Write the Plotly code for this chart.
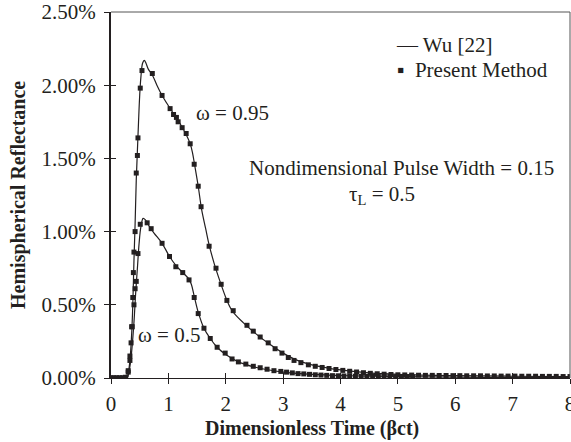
import plotly.graph_objects as go

# ---------------- data (reflectance in %) ----------------
wu95_t = [0.0, 0.28, 0.30, 0.33, 0.36, 0.38, 0.40, 0.42, 0.44, 0.46, 0.48, 0.50, 0.52, 0.55,
          0.58, 0.61, 0.65, 0.72, 0.80, 0.89, 1.00, 1.10, 1.20, 1.30, 1.38, 1.42, 1.46, 1.52,
          1.58, 1.65, 1.71, 1.80, 1.90, 2.00, 2.08, 2.15, 2.30, 2.50, 2.75, 3.00, 3.25, 3.50,
          4.00, 4.50, 5.00, 6.00, 7.00, 8.00]
wu95_r = [0.0, 0.0, 0.03, 0.12, 0.30, 0.50, 0.80, 1.05, 1.35, 1.55, 1.75, 1.93, 2.05, 2.15,
          2.17, 2.15, 2.11, 2.07, 2.00, 1.93, 1.86, 1.80, 1.74, 1.67, 1.60, 1.54, 1.45, 1.31,
          1.15, 1.02, 0.91, 0.78, 0.66, 0.55, 0.48, 0.44, 0.38, 0.31, 0.235, 0.17, 0.12, 0.09,
          0.055, 0.035, 0.025, 0.016, 0.012, 0.010]

wu50_t = [0.0, 0.28, 0.30, 0.33, 0.36, 0.40, 0.43, 0.46, 0.49, 0.52, 0.56, 0.60, 0.66, 0.75,
          0.89, 1.02, 1.13, 1.25, 1.35, 1.40, 1.45, 1.52, 1.62, 1.73, 1.85, 2.00, 2.22, 2.50,
          3.00, 3.50, 4.00, 5.00, 6.00, 7.00, 8.00]
wu50_r = [0.0, 0.0, 0.02, 0.08, 0.18, 0.38, 0.58, 0.75, 0.92, 1.03, 1.09, 1.08, 1.04, 0.99,
          0.92, 0.83, 0.77, 0.72, 0.68, 0.64, 0.56, 0.45, 0.34, 0.27, 0.21, 0.16, 0.11, 0.075,
          0.04, 0.025, 0.017, 0.010, 0.006, 0.004, 0.003]

pm95_t = [0.00, 0.05, 0.10, 0.15, 0.20, 0.25, 0.30, 0.33, 0.36, 0.38, 0.39, 0.40, 0.42, 0.44,
          0.46, 0.47, 0.51, 0.54, 0.72, 0.89, 1.03, 1.09, 1.14, 1.17, 1.24, 1.31, 1.38, 1.45,
          1.52, 1.57, 1.71, 1.83, 1.92, 2.02, 2.13, 2.37, 2.48, 2.60, 2.74, 2.86, 2.98, 3.09,
          3.19, 3.31, 3.44, 3.56, 3.68, 3.80, 3.92, 4.04, 4.16, 4.28, 4.40, 4.52, 4.64, 4.76,
          4.88, 5.00, 5.12, 5.24, 5.36, 5.48, 5.60, 5.72, 5.84, 5.96, 6.08, 6.20, 6.32, 6.44,
          6.56, 6.68, 6.80, 6.92, 7.04, 7.16, 7.28, 7.40, 7.52, 7.64, 7.76, 7.88, 8.00]
pm95_r = [0.0, 0.0, 0.0, 0.0, 0.0, 0.005, 0.05, 0.15, 0.35, 0.55, 0.72, 0.86, 1.00, 1.40,
          1.52, 1.64, 1.98, 2.10, 2.08, 1.93, 1.84, 1.80, 1.78, 1.75, 1.71, 1.67, 1.60, 1.46,
          1.31, 1.17, 0.90, 0.75, 0.64, 0.53, 0.46, 0.36, 0.32, 0.28, 0.24, 0.20, 0.17, 0.14,
          0.12, 0.105, 0.09, 0.08, 0.072, 0.065, 0.058, 0.052, 0.046, 0.041, 0.036, 0.032, 0.029, 0.026,
          0.024, 0.022, 0.021, 0.020, 0.019, 0.018, 0.018, 0.017, 0.017, 0.016, 0.016, 0.015, 0.015, 0.015,
          0.014, 0.014, 0.013, 0.013, 0.013, 0.012, 0.012, 0.012, 0.011, 0.011, 0.011, 0.010, 0.010]

pm50_t = [0.00, 0.05, 0.10, 0.15, 0.20, 0.25, 0.30, 0.33, 0.35, 0.37, 0.40, 0.42, 0.44, 0.47,
          0.51, 0.63, 0.70, 0.89, 1.02, 1.13, 1.25, 1.36, 1.45, 1.52, 1.62, 1.73, 1.85, 1.99,
          2.11, 2.22, 2.35, 2.48, 2.60, 2.72, 2.84, 2.96, 3.06, 3.16, 3.26, 3.36, 3.46, 3.56,
          3.66, 3.76, 3.86, 3.96, 4.06, 4.16, 4.26, 4.36, 4.46, 4.56, 4.66, 4.76, 4.86, 4.96,
          5.06, 5.16, 5.26]
pm50_r = [0.0, 0.0, 0.0, 0.0, 0.0, 0.003, 0.04, 0.12, 0.24, 0.35, 0.50, 0.61, 0.66, 0.85,
          1.05, 1.06, 1.02, 0.92, 0.83, 0.76, 0.72, 0.67, 0.55, 0.44, 0.34, 0.27, 0.21, 0.17,
          0.13, 0.11, 0.095, 0.08, 0.07, 0.06, 0.05, 0.045, 0.04, 0.035, 0.03, 0.028, 0.025, 0.022,
          0.020, 0.018, 0.016, 0.015, 0.014, 0.013, 0.012, 0.012, 0.011, 0.011, 0.010, 0.010, 0.010, 0.009,
          0.009, 0.009, 0.008]

x_ticks = [0, 1, 2, 3, 4, 5, 6, 7, 8]
y_ticks = [0.0, 0.5, 1.0, 1.5, 2.0, 2.5]
y_ticktext = ["0.00%", "0.50%", "1.00%", "1.50%", "2.00%", "2.50%"]

# ---------------- figure ----------------
W, H = 571, 442
L, R, T, B = 111, 1, 12, 64
FONT = "Liberation Serif, Times New Roman, serif"
INK = "#231f20"
FS = 21

def px_x(px):
    return (px - L) / (W - L - R)

def px_y(py):
    return (H - B - py) / (H - T - B)

fig = go.Figure()
line_style = dict(color=INK, width=1.2)
mk_style = dict(symbol="square", size=5, color=INK)

fig.add_trace(go.Scatter(x=wu95_t, y=wu95_r, mode="lines", line=line_style,
                         line_shape="spline", showlegend=False))
fig.add_trace(go.Scatter(x=wu50_t, y=wu50_r, mode="lines", line=line_style,
                         line_shape="spline", showlegend=False))
fig.add_trace(go.Scatter(x=pm95_t, y=pm95_r, mode="markers", marker=mk_style, showlegend=False))
fig.add_trace(go.Scatter(x=pm50_t, y=pm50_r, mode="markers", marker=mk_style, showlegend=False))
# invisible trace to activate overlay axes (inside half of cross ticks)
fig.add_trace(go.Scatter(x=[None], y=[None], xaxis="x2", yaxis="y2", showlegend=False))

fig.update_layout(
    width=W, height=H,
    margin=dict(l=L, r=R, t=T, b=B, autoexpand=False),
    paper_bgcolor="white", plot_bgcolor="white",
    font=dict(family=FONT, size=FS, color=INK),
    xaxis=dict(range=[0, 8], tickvals=x_ticks, ticks="outside", ticklen=5, tickwidth=1,
               tickcolor=INK, showline=True, linecolor=INK, linewidth=1.3, showgrid=False,
               zeroline=False, automargin=False, ticklabelstandoff=2,
               ticklabeloverflow="allow",
               tickfont=dict(size=FS, family=FONT, color=INK)),
    yaxis=dict(range=[0, 2.5], tickvals=y_ticks, ticktext=y_ticktext, ticks="outside",
               ticklen=5, tickwidth=1, tickcolor=INK, showline=True, linecolor=INK,
               linewidth=2, showgrid=False, zeroline=False, ticklabelstandoff=4,
               automargin=False, ticklabeloverflow="allow",
               tickfont=dict(size=FS, family=FONT, color=INK)),
    xaxis2=dict(range=[0, 8], overlaying="x", tickvals=x_ticks, ticks="inside", ticklen=5,
                tickwidth=1, tickcolor=INK, showticklabels=False, showgrid=False,
                zeroline=False, showline=False, automargin=False),
    yaxis2=dict(range=[0, 2.5], overlaying="y", tickvals=y_ticks, ticks="inside", ticklen=5,
                tickwidth=1, tickcolor=INK, showticklabels=False, showgrid=False,
                zeroline=False, showline=False, automargin=False),
)

# thin grey top/right border
fig.add_shape(type="line", xref="paper", yref="paper", x0=0, x1=1, y0=1, y1=1,
              line=dict(color="#555", width=1))
fig.add_shape(type="line", xref="paper", yref="paper", x0=1, x1=1, y0=0, y1=1,
              line=dict(color="#555", width=1))

def ann(text, x, y, xanchor="center", size=FS, bold=False, angle=0):
    if bold:
        text = "<b>" + text + "</b>"
    fig.add_annotation(text=text, x=x, y=y, xref="paper", yref="paper", xanchor=xanchor,
                       yanchor="middle", showarrow=False, textangle=angle,
                       font=dict(family=FONT, size=size, color=INK))

ann("Dimensionless Time (βct)", px_x(312), px_y(428), bold=True, size=20)
ann("Hemispherical Reflectance", px_x(18), px_y(195), bold=True, angle=-90, size=20)
ann("— Wu [22]", px_x(394), px_y(45), xanchor="left")
ann("▪  Present Method", px_x(395), px_y(70), xanchor="left")
ann("ω = 0.95", px_x(232), px_y(113))
ann("ω = 0.5", px_x(169), px_y(335))
ann("Nondimensional Pulse Width = 0.15", px_x(401), px_y(168))
ann("τ<sub>L</sub> = 0.5", px_x(347), px_y(195), xanchor="left")

fig.write_html("out.html", config={"displayModeBar": False},
               post_script="document.body.style.margin='0px';document.body.style.padding='0px';")
